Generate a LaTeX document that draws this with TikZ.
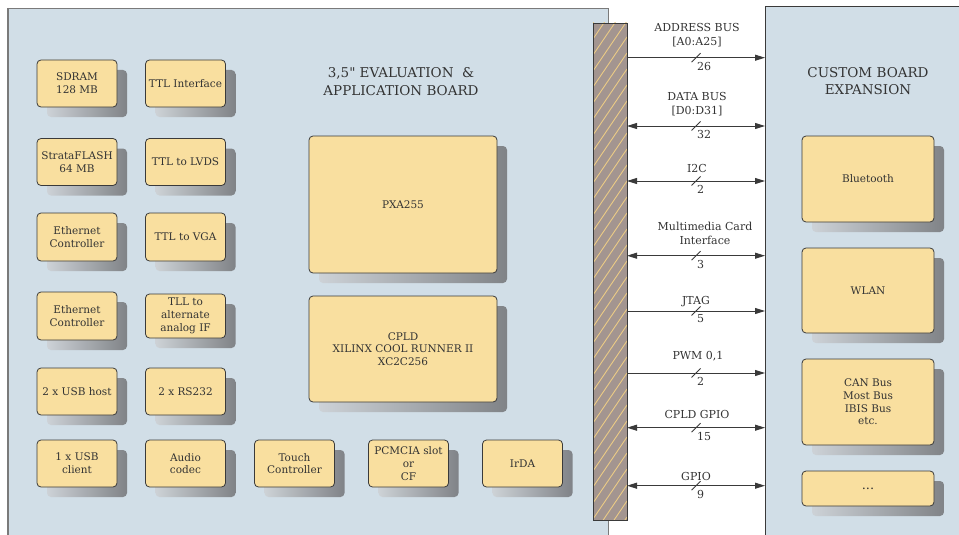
\documentclass[tikz,border=0pt]{standalone}
\usepackage{fontspec}
\setmainfont{DejaVu Serif}[Ligatures=TeXOff]
\usetikzlibrary{arrows.meta}
\definecolor{boardc}{HTML}{D1DEE7}
\definecolor{boxc}{HTML}{F9DF9F}
\definecolor{txtc}{HTML}{333333}
\definecolor{barc}{HTML}{A39590}
\definecolor{hatchc}{HTML}{EBCB85}
\definecolor{linec}{HTML}{3A3A3A}
\definecolor{edgec}{HTML}{7A7A7A}
\definecolor{shL}{HTML}{CDD2D7}
\definecolor{shR}{HTML}{808387}
\tikzset{
  box/.style={draw=linec, line width=0.8pt, fill=boxc, rounded corners=4pt, text=txtc,
    align=center, inner sep=0pt, font=\fontsize{10.5}{12.7}\selectfont},
  shadowbox/.style={left color=shL, right color=shR, rounded corners=4pt},
  bus/.style={draw=linec, line width=0.9pt},
  tipR/.style={-{Triangle[length=10pt,width=6pt]}},
  tipLR/.style={{Triangle[length=10pt,width=6pt]}-{Triangle[length=10pt,width=6pt]}},
  slash/.style={draw=linec, line width=0.8pt},
  lbl/.style={text=txtc, inner sep=0pt, align=center, font=\fontsize{11}{14}\selectfont},
  num/.style={text=txtc, inner sep=0pt, anchor=west, font=\fontsize{11}{13}\selectfont},
  title/.style={text=txtc, inner sep=0pt, align=center, font=\fontsize{13.5}{17.5}\selectfont},
}
\newcommand\gbox[6]{%
  \shade[shadowbox] ({#2-#4/2+10},{#3-#5/2+10}) rectangle ({#2+#4/2+10},{#3+#5/2+10});
  \node[box, minimum width=#4pt, minimum height=#5pt] (#1) at (#2,#3) {#6};
}
\begin{document}
\begin{tikzpicture}[x=1pt,y=-1pt]
\useasboundingbox (0,0) rectangle (959,535);
\clip (0,0) rectangle (959,535);
% left board
\fill[boardc] (8,8) rectangle (608,545);
\draw[edgec, line width=0.8pt] (8,8) -- (608,8) -- (608,545);
\draw[edgec, line width=2pt] (8,8) -- (8,545);
% right board
\fill[boardc] (765,6) rectangle (970,545);
\draw[linec, line width=0.8pt] (970,6) -- (765,6) -- (765,545);
% bar
\fill[barc] (593,23) rectangle (627,520);
\begin{scope}
  \clip (593,23) rectangle (627,520);
  \foreach \k in {0,...,36} {
    \draw[hatchc, line width=0.9pt] (593,{23+16*\k}) -- (627,{23+16*\k-50});
  }
\end{scope}
\node[draw=linec, line width=0.8pt, minimum width=34pt, minimum height=497pt, inner sep=0pt] (bar) at (610,271.5) {};

% titles
\node[title] (t1) at (401,81.5) {3,5" EVALUATION \ \&\\APPLICATION BOARD};
\node[title] (t2) at (868,81) {CUSTOM BOARD\\EXPANSION};

% left column boxes
\gbox{sdram}{77}{83.5}{80}{47}{SDRAM\\128 MB}
\gbox{flash}{77}{162}{80}{47}{StrataFLASH\\64 MB}
\gbox{eth1}{77}{237}{80}{48}{Ethernet\\Controller}
\gbox{eth2}{77}{316}{80}{48}{Ethernet\\Controller}
\gbox{usbh}{77}{391.5}{80}{47}{2 x USB host}
\gbox{usbc}{77}{463.5}{80}{47}{1 x USB\\client}
% second column
\gbox{ttli}{185.5}{83.5}{80}{47}{TTL Interface}
\gbox{lvds}{185.5}{162}{80}{47}{TTL to LVDS}
\gbox{vga}{185.5}{237}{80}{48}{TTL to VGA}
\gbox{tll}{185.5}{316}{80}{44}{TLL to\\alternate\\analog IF}
\gbox{rs}{185.5}{391.5}{80}{47}{2 x RS232}
\gbox{audio}{185.5}{463.5}{80}{47}{Audio\\codec}
% bottom row
\gbox{touch}{294.5}{463.5}{80}{47}{Touch\\Controller}
\gbox{pcm}{408.5}{463.5}{80}{47}{PCMCIA slot\\or\\CF}
\gbox{irda}{522.5}{463.5}{80}{47}{IrDA}
% big
\gbox{pxa}{403}{204.5}{188}{137}{PXA255}
\gbox{cpld}{403}{349}{188}{106}{CPLD\\XILINX COOL RUNNER II\\XC2C256}
% right side
\gbox{bt}{868}{179}{132}{86}{Bluetooth}
\gbox{wlan}{868}{290.5}{132}{85}{WLAN}
\gbox{can}{868}{402}{132}{86}{CAN Bus\\Most Bus\\IBIS Bus\\etc.}
\gbox{dots}{868}{488.5}{132}{35}{\fontsize{13}{15}\selectfont ...}

% buses
\foreach \n/\y in {a/57.7, d/126, i/181, m/255.7, j/311, p/373, c/427.7, g/485.7} {
  \coordinate (\n L) at (627,\y);
  \coordinate (\n R) at (765,\y);
  \coordinate (\n S) at (696,\y);
  \draw[slash] ([shift={(-4.5,4.5)}]\n S) -- ([shift={(4.5,-4.5)}]\n S);
}
\draw[bus, tipR] (aL) -- (aR);
\draw[bus, tipLR] (dL) -- (dR);
\draw[bus, tipLR] (iL) -- (iR);
\draw[bus, tipLR] (mL) -- (mR);
\draw[bus, tipR] (jL) -- (jR);
\draw[bus, tipR] (pL) -- (pR);
\draw[bus, tipLR] (cL) -- (cR);
\draw[bus, tipLR] (gL) -- (gR);

\node[lbl] (la) at (697,35.5) {ADDRESS BUS\\{}[A0:A25]};
\node[lbl] (ld) at (697,104) {DATA BUS\\{}[D0:D31]};
\node[lbl] (li) at (697,168) {I2C};
\node[lbl] (lm) at (705,233) {Multimedia Card\\Interface};
\node[lbl] (lj) at (696,302) {JTAG};
\node[lbl] (lp) at (698,356) {PWM 0,1};
\node[lbl] (lc) at (697,414) {CPLD GPIO};
\node[lbl] (lg) at (696,476) {GPIO};

\node[num] (na) at (697,66) {26};
\node[num] (nd) at (697,134) {32};
\node[num] (ni) at (697,189) {2};
\node[num] (nm) at (697,264) {3};
\node[num] (nj) at (697,319) {5};
\node[num] (np) at (697,381) {2};
\node[num] (nc) at (697,436) {15};
\node[num] (ng) at (697,494) {9};
\end{tikzpicture}
\end{document}
